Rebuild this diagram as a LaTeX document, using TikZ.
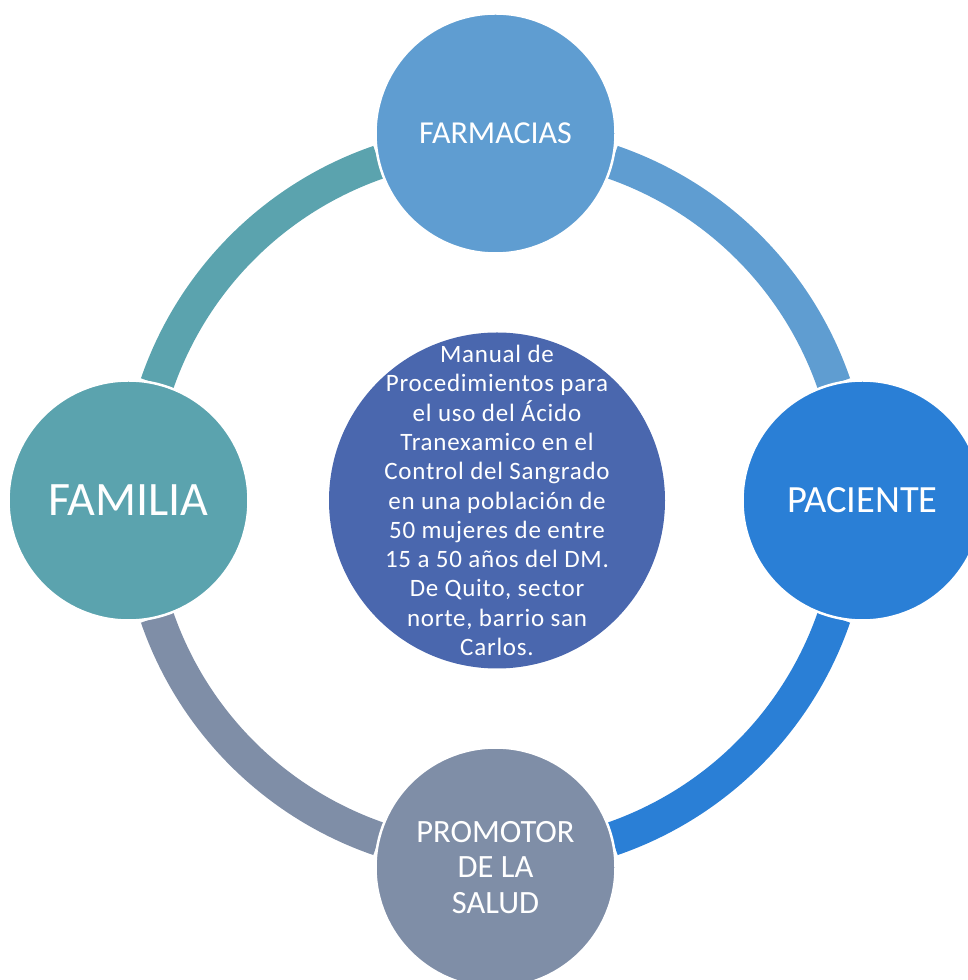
\documentclass[tikz,border=0pt]{standalone}
\usepackage{fontspec}
\setmainfont{Carlito}
\definecolor{cFarm}{HTML}{5F9DD1}
\definecolor{cPac}{HTML}{2A7FD6}
\definecolor{cProm}{HTML}{7F8EA7}
\definecolor{cFam}{HTML}{5BA3AE}
\definecolor{cCen}{HTML}{4A67AE}
\tikzset{
  bubble/.style={circle, draw=white, line width=2.5pt, minimum size=240pt, inner sep=0pt,
    text=white, align=center},
  band/.style={line width=34pt, line cap=butt},
}
\begin{document}
\begin{tikzpicture}[x=1pt,y=1pt]
\useasboundingbox (0,0) rectangle (967,980);
\coordinate (c) at (495.5,479.5);
% ring bands
\draw[band, cFam]  ([shift={(109:358)}]c) arc[start angle=109, end angle=161, radius=358];
\draw[band, cFarm] ([shift={(19:358)}]c)  arc[start angle=19,  end angle=71,  radius=358];
\draw[band, cPac]  ([shift={(-71:358)}]c) arc[start angle=-71, end angle=-19, radius=358];
\draw[band, cProm] ([shift={(199:358)}]c) arc[start angle=199, end angle=251, radius=358];
% outer nodes
\node[bubble, fill=cFarm, font=\fontsize{32}{38}\selectfont] (farm) at ([shift={(90:367)}]c) {FARMACIAS};
\node[bubble, fill=cPac, font=\fontsize{38.5}{46}\selectfont] (pac) at ([shift={(0:367)}]c) {PACIENTE};
\node[bubble, fill=cProm, font=\fontsize{32.5}{35.5}\selectfont] (prom) at ([shift={(-90:367)}]c) {PROMOTOR\\DE LA\\SALUD};
\node[bubble, fill=cFam, font=\fontsize{48}{57}\selectfont] (fam) at ([shift={(180:367)}]c) {FAMILIA};
% centre node
\node[circle, fill=cCen, minimum size=336pt, inner sep=0pt] (cen) at ([shift={(1.5,0)}]c) {};
\node[text=white, align=center, inner sep=0pt,
  font=\fontsize{25}{29.3}\selectfont\addfontfeature{LetterSpace=3}] (centext) at (cen)
  {Manual de\\Procedimientos para\\el uso del Ácido\\Tranexamico en el\\Control del Sangrado\\en una población de\\50 mujeres de entre\\15 a 50 años del DM.\\De Quito, sector\\norte, barrio san\\Carlos.};
\end{tikzpicture}
\end{document}
